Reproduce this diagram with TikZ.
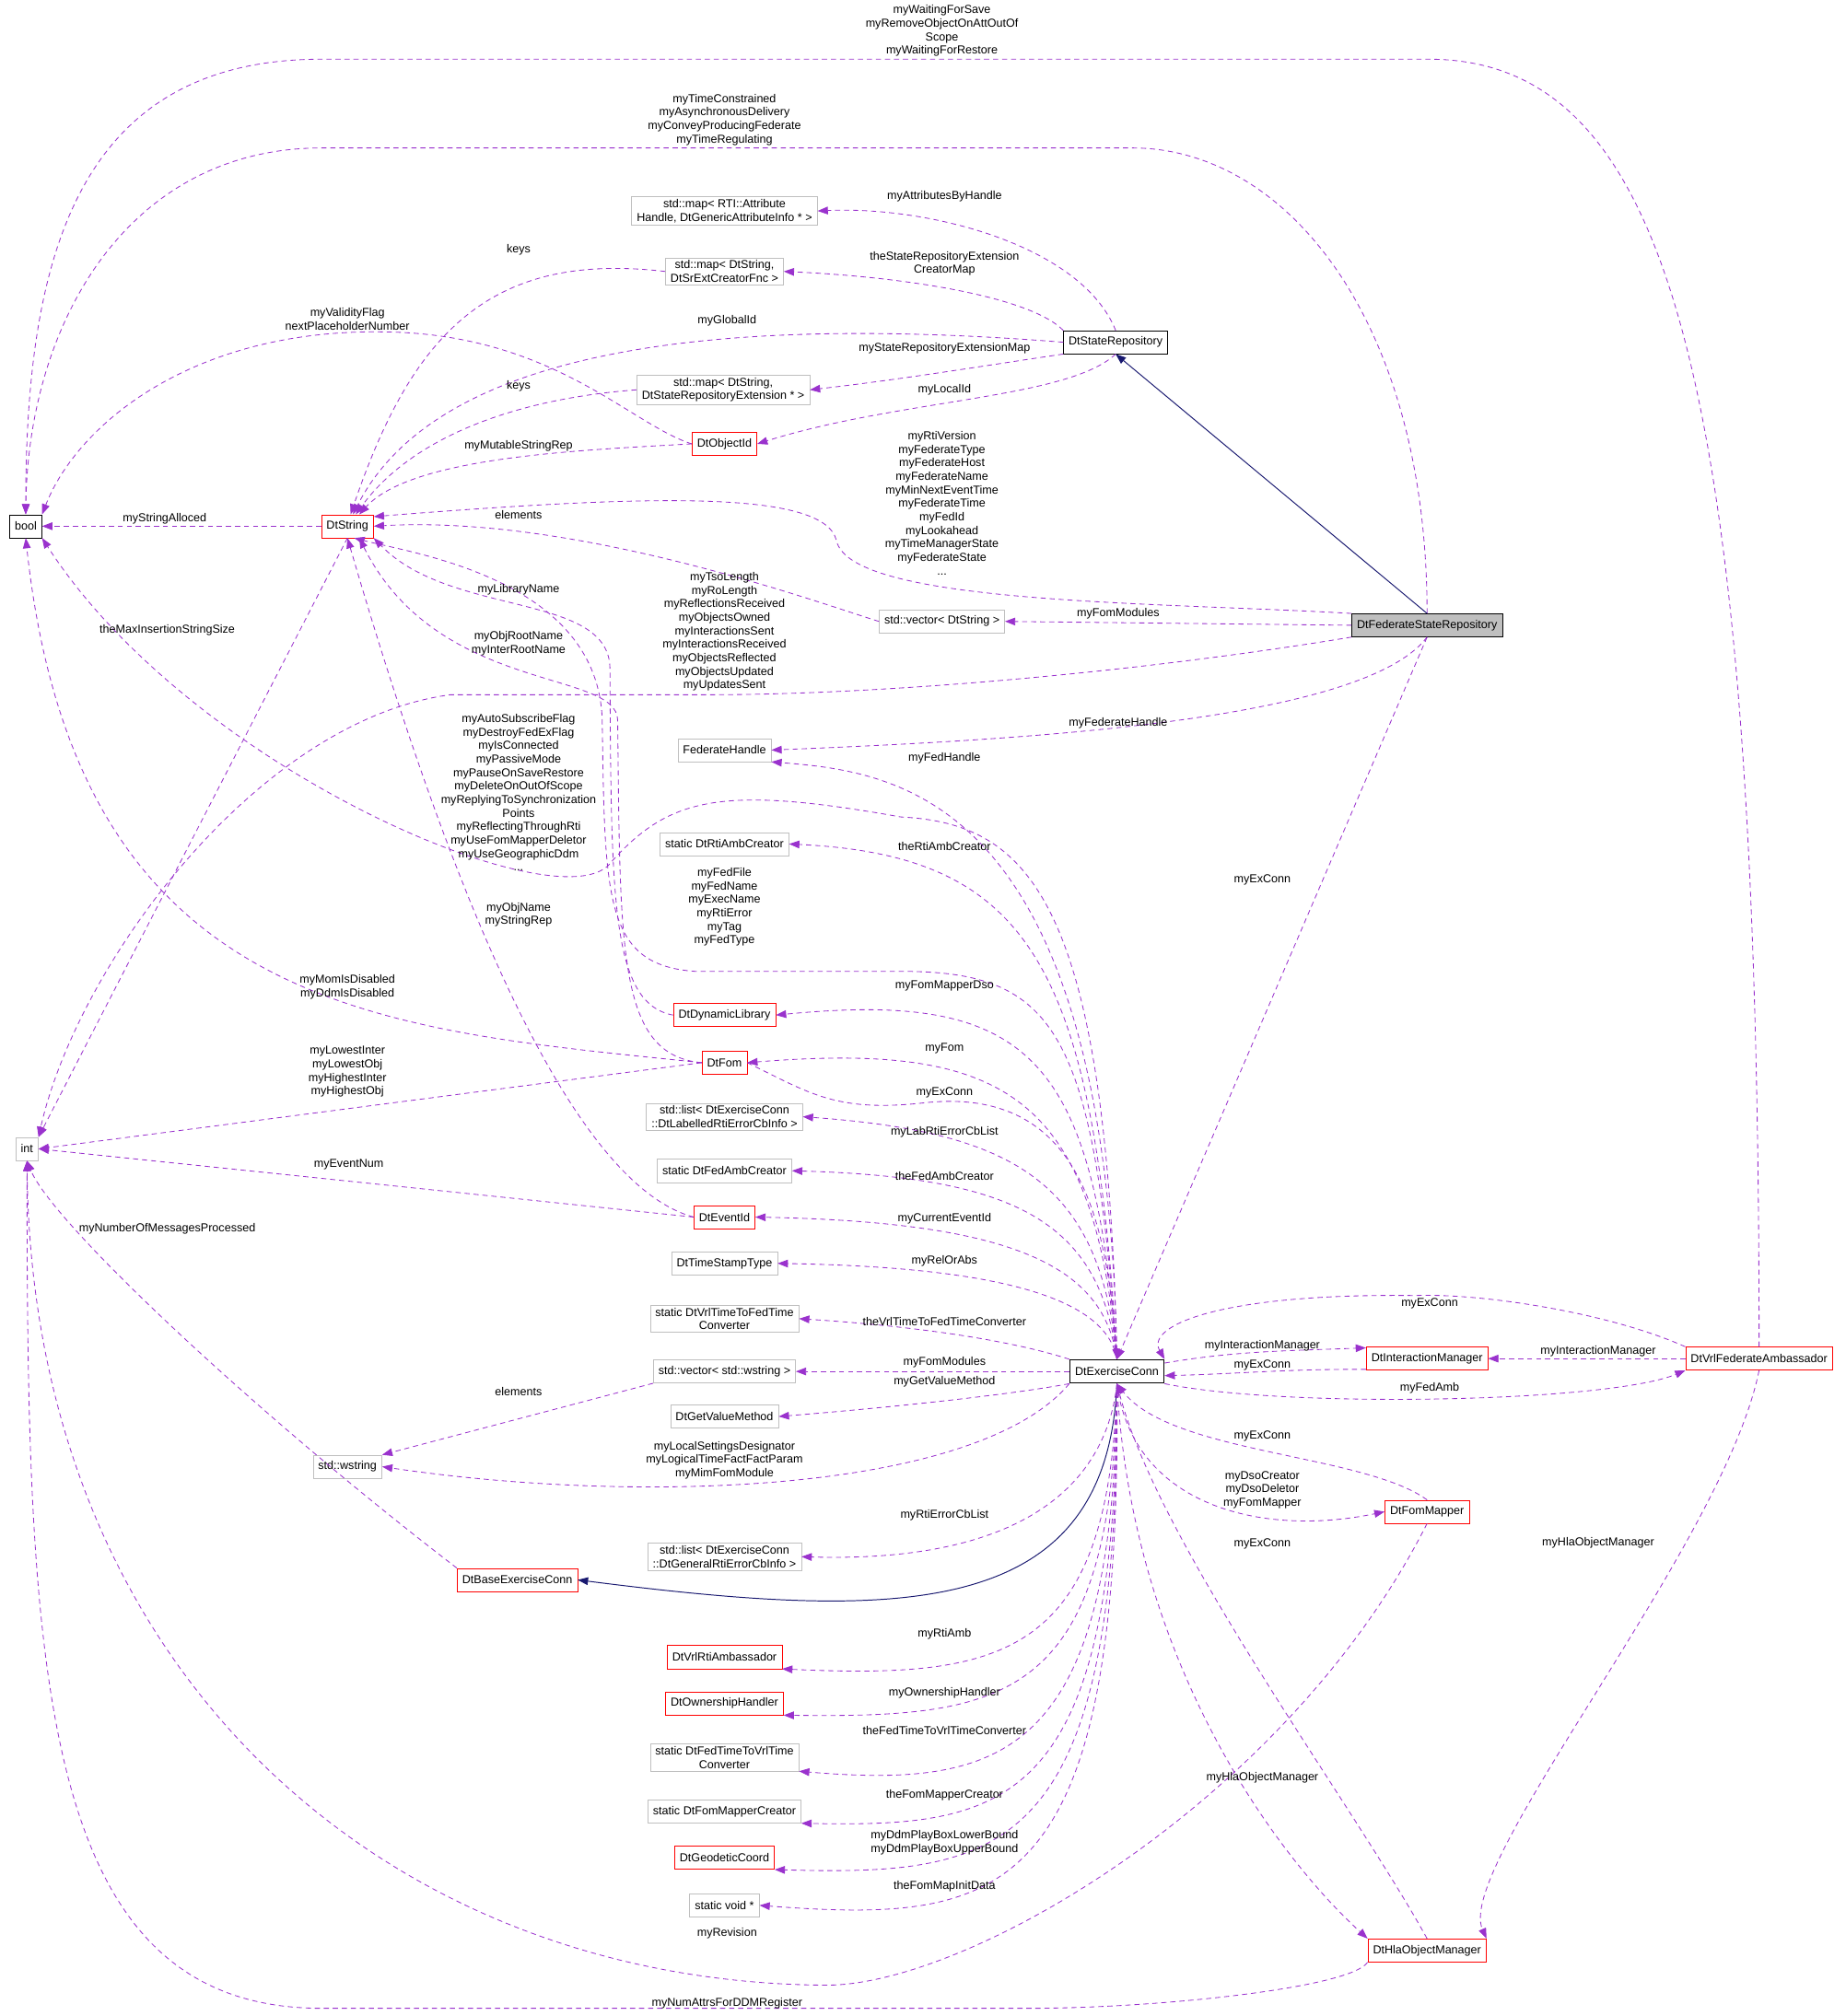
\documentclass[tikz,border=0pt]{standalone}
\usepackage{fontspec}
\setmainfont{Liberation Sans}
\usetikzlibrary{arrows.meta}
\definecolor{depc}{HTML}{9A32CD}
\definecolor{inhc}{HTML}{191970}
\definecolor{grayb}{HTML}{BFBFBF}
\begin{document}
\begin{tikzpicture}[x=1pt,y=-1pt,
  every node/.style={font=\fontsize{9}{10.5}\selectfont},
  box/.style={draw,rectangle,inner xsep=4pt,inner ysep=2pt,minimum height=18pt,align=center},
  nb/.style={box,draw=black},
  ng/.style={box,draw=grayb},
  nr/.style={box,draw=red},
  lab/.style={align=center,inner sep=0pt},
  dep/.style={draw=depc,dash pattern=on 4pt off 3pt,line width=0.6pt,-{Triangle[length=8pt,width=6pt,fill=depc]}},
  inh/.style={draw=inhc,line width=0.7pt,-{Triangle[length=8pt,width=6pt,fill=inhc]}}]
\useasboundingbox (0,0) rectangle (1434,1567);
% nodes
\node[nb] (bool) at (20,409) {bool};
\node[ng] (int) at (21,893) {int};
\node[nr] (dts) at (270,409) {DtString};
\node[ng] (mapattr) at (563,164) {std::map\textless{} RTI::Attribute\\Handle, DtGenericAttributeInfo * \textgreater};
\node[ng] (mapsr) at (563,211) {std::map\textless{} DtString,\\DtSrExtCreatorFnc \textgreater};
\node[nb] (srep) at (867,266) {DtStateRepository};
\node[ng] (mapext) at (562,303) {std::map\textless{} DtString,\\DtStateRepositoryExtension * \textgreater};
\node[nr] (objid) at (563,345) {DtObjectId};
\node[ng] (vecds) at (732,483) {std::vector\textless{} DtString \textgreater};
\node[box,draw=black,fill=grayb] (fsr) at (1109,486) {DtFederateStateRepository};
\node[ng] (fedh) at (563,583) {FederateHandle};
\node[ng] (rtiamb) at (563,656) {static DtRtiAmbCreator};
\node[nr] (dynlib) at (563,789) {DtDynamicLibrary};
\node[nr] (fom) at (563,826) {DtFom};
\node[ng] (listlab) at (563,868) {std::list\textless{} DtExerciseConn\\::DtLabelledRtiErrorCbInfo \textgreater};
\node[ng] (fedamb) at (563,910) {static DtFedAmbCreator};
\node[nr] (evid) at (563,946) {DtEventId};
\node[ng] (tst) at (563,982) {DtTimeStampType};
\node[ng] (vrl2fed) at (563,1025) {static DtVrlTimeToFedTime\\Converter};
\node[ng] (vecws) at (563,1066) {std::vector\textless{} std::wstring \textgreater};
\node[nb,line width=1pt] (exc) at (868,1066) {DtExerciseConn};
\node[nr] (intm) at (1109,1056) {DtInteractionManager};
\node[nr] (vfa) at (1367,1056) {DtVrlFederateAmbassador};
\node[ng] (getval) at (563,1101) {DtGetValueMethod};
\node[ng] (wstr) at (270,1140) {std::wstring};
\node[nr] (fmap) at (1109,1175) {DtFomMapper};
\node[ng] (listgen) at (563,1210) {std::list\textless{} DtExerciseConn\\::DtGeneralRtiErrorCbInfo \textgreater};
\node[nr] (base) at (402,1228) {DtBaseExerciseConn};
\node[nr] (vrlrti) at (563,1288) {DtVrlRtiAmbassador};
\node[nr] (own) at (563,1324) {DtOwnershipHandler};
\node[ng] (fed2vrl) at (563,1366) {static DtFedTimeToVrlTime\\Converter};
\node[ng] (fmcreator) at (563,1408) {static DtFomMapperCreator};
\node[nr] (geo) at (563,1444) {DtGeodeticCoord};
\node[ng] (voidp) at (563,1481) {static void *};
\node[nr] (hla) at (1109,1516) {DtHlaObjectManager};
% edges
\draw[dep] (vfa.north) .. controls (1367,300) and (1300,46) .. (1110,46) -- (250,46) .. controls (60,46) and (20,200) .. (bool.north);
\draw[dep] (fsr.north) .. controls (1109,250) and (1000,115) .. (880,115) -- (250,115) .. controls (100,115) and (22,250) .. (bool.north);
\draw[dep] (srep.north) .. controls (840,190) and (720,160) .. (mapattr.east);
\draw[dep] (srep.north west) .. controls (800,230) and (700,215) .. (mapsr.east);
\draw[dep] (mapsr.west) .. controls (380,195) and (320,260) .. (dts.75);
\draw[dep] (srep.west) .. controls (500,240) and (330,290) .. (dts.65);
\draw[dep] (objid.west) .. controls (490,330) and (430,260) .. (300,258) .. controls (150,255) and (60,330) .. (bool.north east);
\draw[dep] (srep.south west) .. controls (760,285) and (700,295) .. (mapext.east);
\draw[dep] (mapext.west) .. controls (400,310) and (320,340) .. (dts.55);
\draw[dep] (srep.south) .. controls (830,310) and (700,310) .. (objid.east);
\draw[dep] (objid.west) .. controls (450,350) and (320,355) .. (dts.45);
\draw[dep] (dts.west) -- (bool.east);
\draw[dep] (fsr.north west) .. controls (900,468) and (660,470) .. (650,420) .. controls (640,380) and (500,385) .. (dts.20);
\draw[dep] (vecds.west) .. controls (640,470) and (450,400) .. (dts.east);
\draw[dep] (fsr.west) -- (vecds.east);
\draw[inh] (fsr.north) -- (srep.south);
\draw[dep] (fsr.south west) .. controls (900,520) and (700,540) .. (550,540) -- (350,540) .. controls (200,560) and (60,750) .. (int.north east);
\draw[dep] (dts.south) -- (int.north east);
\draw[dep] (fsr.south) .. controls (1060,560) and (800,575) .. (fedh.east);
\draw[dep] (exc.north) .. controls (860,620) and (700,600) .. (fedh.south east);
\draw[dep] (fsr.south) -- (exc.north);
\draw[dep] (dynlib.west) .. controls (475,780) and (475,700) .. (474,520) .. controls (474,460) and (350,480) .. (dts.south east);
\draw[dep] (fom.west) .. controls (480,820) and (482,740) .. (480,560) .. controls (480,520) and (340,540) .. (dts.-45);
\draw[dep] (exc.north) .. controls (860,700) and (800,640) .. (700,635) .. controls (560,610) and (520,620) .. (475,670) .. controls (440,720) and (150,600) .. (bool.south east);
\draw[dep] (exc.north) .. controls (850,750) and (800,665) .. (rtiamb.east);
\draw[dep] (exc.north) .. controls (850,800) and (820,755) .. (700,755) -- (540,755) .. controls (470,750) and (470,700) .. (468,560) .. controls (465,450) and (320,430) .. (dts.-60);
\draw[dep] (evid.west) .. controls (480,930) and (390,830) .. (dts.south);
\draw[dep] (exc.north) .. controls (850,820) and (800,770) .. (dynlib.east);
\draw[dep] (fom.west) .. controls (300,800) and (60,790) .. (bool.south);
\draw[dep] (exc.north) .. controls (850,850) and (780,810) .. (fom.east);
\draw[dep] (fom.west) -- (int.east);
\draw[dep] (fom.east) .. controls (630,850) and (650,865) .. (720,857) .. controls (840,845) and (860,950) .. (exc.north);
\draw[dep] (exc.north) .. controls (855,920) and (790,880) .. (listlab.east);
\draw[dep] (exc.north) .. controls (855,950) and (790,915) .. (fedamb.east);
\draw[dep] (evid.west) -- (int.east);
\draw[dep] (exc.north) .. controls (858,985) and (790,950) .. (evid.east);
\draw[dep] (base.north west) .. controls (200,1100) and (40,950) .. (int.south);
\draw[dep] (exc.north) .. controls (860,1010) and (780,985) .. (tst.east);
\draw[dep] (exc.north west) .. controls (780,1040) and (700,1030) .. (vrl2fed.east);
\draw[dep] (exc.west) -- (vecws.east);
\draw[dep] (exc.south west) .. controls (780,1085) and (680,1095) .. (getval.east);
\draw[dep] (vecws.south west) -- (wstr.north east);
\draw[dep] (exc.south west) .. controls (760,1160) and (500,1170) .. (wstr.east);
\draw[dep] (exc.south) .. controls (860,1150) and (800,1215) .. (listgen.east);
\draw[inh] (exc.south) .. controls (860,1260) and (700,1260) .. (base.east);
\draw[dep] (exc.south) .. controls (862,1288) and (780,1305) .. (vrlrti.south east);
\draw[dep] (exc.south) .. controls (864,1324) and (780,1335) .. (own.south east);
\draw[dep] (exc.south) .. controls (866,1366) and (780,1390) .. (fed2vrl.south east);
\draw[dep] (exc.south) .. controls (868,1408) and (780,1420) .. (fmcreator.south east);
\draw[dep] (exc.south) .. controls (870,1444) and (780,1458) .. (geo.south east);
\draw[dep] (exc.south) .. controls (872,1481) and (780,1495) .. (voidp.east);
\draw[dep] (fmap.south) .. controls (1000,1400) and (750,1545) .. (640,1543) .. controls (300,1540) and (25,1300) .. (int.south);
\draw[dep] (hla.south west) .. controls (1050,1545) and (900,1561) .. (800,1561) -- (250,1561) .. controls (30,1561) and (21,1300) .. (int.south);
\draw[dep] (vfa.north west) .. controls (1250,1020) and (1150,1005) .. (1100,1007) .. controls (950,1005) and (890,1030) .. (exc.north east);
\draw[dep] (exc.10) .. controls (960,1050) and (1000,1050) .. (intm.170);
\draw[dep] (intm.190) .. controls (1000,1064) and (960,1068) .. (exc.-5);
\draw[dep] (vfa.west) -- (intm.east);
\draw[dep] (exc.south east) .. controls (1000,1095) and (1250,1090) .. (vfa.south west);
\draw[dep] (fmap.north) .. controls (1060,1130) and (910,1130) .. (exc.south);
\draw[dep] (exc.south) .. controls (880,1170) and (980,1195) .. (fmap.west);
\draw[dep] (hla.north) .. controls (1050,1400) and (900,1200) .. (exc.south);
\draw[dep] (exc.south) .. controls (880,1300) and (1000,1450) .. (hla.north west);
\draw[dep] (vfa.south) .. controls (1340,1200) and (1130,1450) .. (hla.north east);
% labels
\node[lab] (l1) at (732,24) {myWaitingForSave\\myRemoveObjectOnAttOutOf\\Scope\\myWaitingForRestore};
\node[lab] (l2) at (563,93) {myTimeConstrained\\myAsynchronousDelivery\\myConveyProducingFederate\\myTimeRegulating};
\node[lab] (l3) at (734,153) {myAttributesByHandle};
\node[lab] (l4) at (734,205) {theStateRepositoryExtension\\CreatorMap};
\node[lab] (l5) at (403,194) {keys};
\node[lab] (l6) at (270,248) {myValidityFlag\\nextPlaceholderNumber};
\node[lab] (l7) at (565,249) {myGlobalId};
\node[lab] (l8) at (734,271) {myStateRepositoryExtensionMap};
\node[lab] (l9) at (403,300) {keys};
\node[lab] (l10) at (734,303) {myLocalId};
\node[lab] (l11) at (403,347) {myMutableStringRep};
\node[lab] (l12) at (128,403) {myStringAlloced};
\node[lab] (l13) at (732,391) {myRtiVersion\\myFederateType\\myFederateHost\\myFederateName\\myMinNextEventTime\\myFederateTime\\myFedId\\myLookahead\\myTimeManagerState\\myFederateState\\...};
\node[lab] (l14) at (403,400) {elements};
\node[lab] (l15) at (869,477) {myFomModules};
\node[lab] (l16) at (563,491) {myTsoLength\\myRoLength\\myReflectionsReceived\\myObjectsOwned\\myInteractionsSent\\myInteractionsReceived\\myObjectsReflected\\myObjectsUpdated\\myUpdatesSent};
\node[lab] (l17) at (130,490) {theMaxInsertionStringSize};
\node[lab] (l18) at (403,458) {myLibraryName};
\node[lab] (l19) at (403,500) {myObjRootName\\myInterRootName};
\node[lab] (l20) at (869,562) {myFederateHandle};
\node[lab] (l21) at (734,589) {myFedHandle};
\node[lab] (l22) at (403,616) {myAutoSubscribeFlag\\myDestroyFedExFlag\\myIsConnected\\myPassiveMode\\myPauseOnSaveRestore\\myDeleteOnOutOfScope\\myReplyingToSynchronization\\Points\\myReflectingThroughRti\\myUseFomMapperDeletor\\myUseGeographicDdm\\...};
\node[lab] (l23) at (734,658) {theRtiAmbCreator};
\node[lab] (l24) at (981,684) {myExConn};
\node[lab] (l25) at (563,705) {myFedFile\\myFedName\\myExecName\\myRtiError\\myTag\\myFedType};
\node[lab] (l26) at (403,711) {myObjName\\myStringRep};
\node[lab] (l27) at (734,766) {myFomMapperDso};
\node[lab] (l28) at (270,767) {myMomIsDisabled\\myDdmIsDisabled};
\node[lab] (l29) at (734,815) {myFom};
\node[lab] (l30) at (270,833) {myLowestInter\\myLowestObj\\myHighestInter\\myHighestObj};
\node[lab] (l31) at (734,849) {myExConn};
\node[lab] (l32) at (734,880) {myLabRtiErrorCbList};
\node[lab] (l33) at (271,905) {myEventNum};
\node[lab] (l34) at (734,914) {theFedAmbCreator};
\node[lab] (l35) at (734,947) {myCurrentEventId};
\node[lab] (l36) at (130,955) {myNumberOfMessagesProcessed};
\node[lab] (l37) at (734,980) {myRelOrAbs};
\node[lab] (l38) at (1111,1013) {myExConn};
\node[lab] (l39) at (734,1027) {theVrlTimeToFedTimeConverter};
\node[lab] (l40) at (981,1046) {myInteractionManager};
\node[lab] (l41) at (1242,1050) {myInteractionManager};
\node[lab] (l42) at (734,1059) {myFomModules};
\node[lab] (l43) at (981,1061) {myExConn};
\node[lab] (l44) at (734,1074) {myGetValueMethod};
\node[lab] (l45) at (1111,1079) {myFedAmb};
\node[lab] (l46) at (403,1082) {elements};
\node[lab] (l47) at (981,1116) {myExConn};
\node[lab] (l48) at (563,1135) {myLocalSettingsDesignator\\myLogicalTimeFactFactParam\\myMimFomModule};
\node[lab] (l49) at (981,1158) {myDsoCreator\\myDsoDeletor\\myFomMapper};
\node[lab] (l50) at (734,1178) {myRtiErrorCbList};
\node[lab] (l51) at (981,1200) {myExConn};
\node[lab] (l52) at (1242,1199) {myHlaObjectManager};
\node[lab] (l53) at (734,1270) {myRtiAmb};
\node[lab] (l54) at (734,1316) {myOwnershipHandler};
\node[lab] (l55) at (734,1345) {theFedTimeToVrlTimeConverter};
\node[lab] (l56) at (981,1382) {myHlaObjectManager};
\node[lab] (l57) at (734,1395) {theFomMapperCreator};
\node[lab] (l58) at (734,1432) {myDdmPlayBoxLowerBound\\myDdmPlayBoxUpperBound};
\node[lab] (l59) at (734,1466) {theFomMapInitData};
\node[lab] (l60) at (565,1503) {myRevision};
\node[lab] (l61) at (565,1557) {myNumAttrsForDDMRegister};
\end{tikzpicture}
\end{document}
